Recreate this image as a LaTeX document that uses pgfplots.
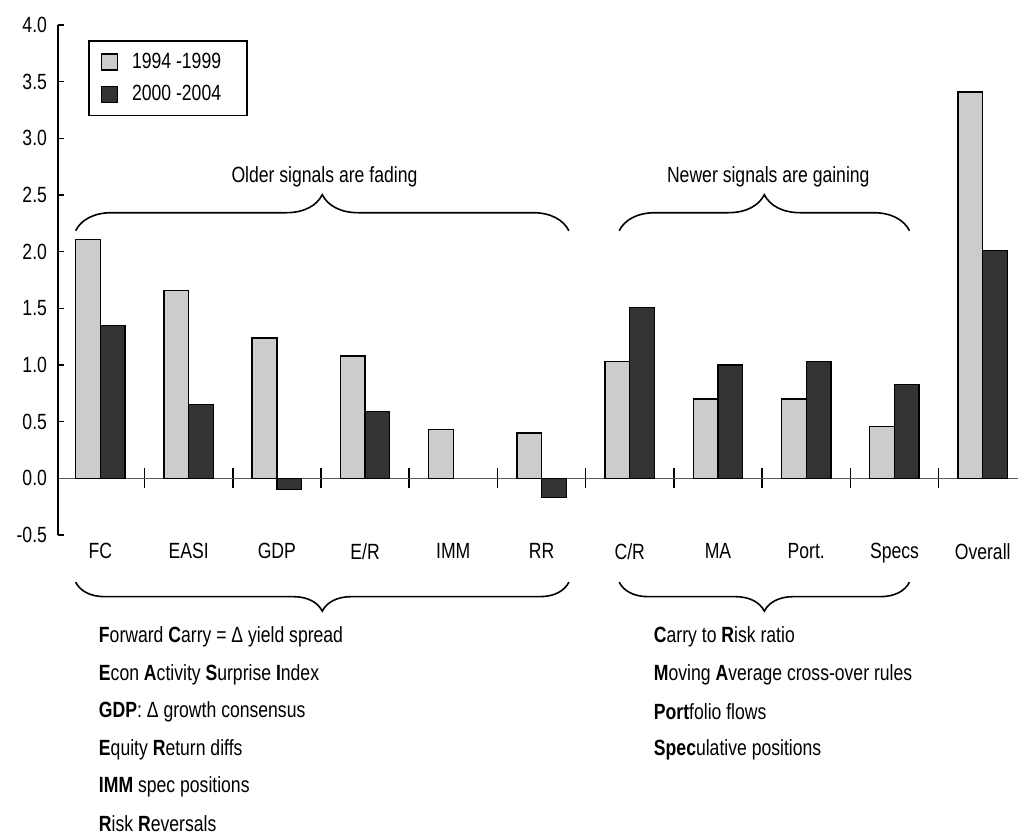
\documentclass[border=0pt]{standalone}
\usepackage{fontspec}
\setmainfont{Liberation Sans}[FakeStretch=0.8]
\usepackage{pgfplots}
\usepackage{pgfplotstable}
\pgfplotsset{compat=1.18}
\usetikzlibrary{decorations.pathreplacing}

\definecolor{lightbar}{gray}{0.80}
\definecolor{darkbar}{gray}{0.20}

% 1994-1999
\pgfplotstableread{
x y
0 2.11
1 1.66
2 1.24
3 1.08
4 0.43
5 0.40
6 1.03
7 0.70
8 0.70
9 0.46
10 3.41
}\early

% 2000-2004 (IMM has no bar)
\pgfplotstableread{
x y
0 1.35
1 0.65
2 -0.10
3 0.59
5 -0.17
6 1.51
7 1.00
8 1.03
9 0.83
10 2.01
}\late

\begin{document}
\begin{tikzpicture}[font=\fontsize{11}{13}\selectfont]
\useasboundingbox (-29pt,-150.5pt) rectangle (480pt,267.5pt);
\begin{axis}[
  scale only axis,
  width=480pt, height=255pt,
  xmin=-0.48, xmax=10.4,
  ymin=-0.5, ymax=4.0,
  axis y line*=left,
  axis x line*=middle,
  y axis line style={-, black, line width=0.8pt},
  x axis line style={-, black!65, line width=0.6pt},
  clip=false,
  ybar=0pt,
  bar width=0.28,
  ytick={-0.5,0,...,4},
  yticklabel style={xshift=-2pt, /pgf/number format/.cd, fixed, fixed zerofill, precision=1, assume math mode=true},
  xtick={0,...,10},
  xticklabels={FC,EASI,GDP,E/R,IMM,RR,C/R,MA,Port.,Specs,Overall},
  major x tick style={draw=none},
  minor xtick={0.5,1.5,...,9.5},
  minor x tick style={black, line width=0.8pt, yshift=-5pt},
  minor tick length=10pt,
  major tick length=3pt,
  tick align=inside,
  ytick style={black, line width=0.8pt},
  xticklabel style={yshift=-29pt},
  tick label style={font=\fontsize{11}{13}\selectfont},
  legend style={at={(rel axis cs:0.031,0.971)}, anchor=north west,
    draw=black, line width=0.9pt, font=\fontsize{11}{13}\selectfont,
    row sep=3pt, inner xsep=6pt, inner ysep=4pt,
    nodes={inner xsep=7pt}},
  legend image code/.code={\draw[#1, line width=0.7pt] (0pt,-4pt) rectangle (8pt,4pt);},
  legend cell align=left,
]
\addplot[fill=lightbar, draw=black, line width=0.7pt] table[x=x, y=y] {\early};
\addplot[fill=darkbar, draw=black, line width=0.7pt] table[x=x, y=y] {\late};
\legend{1994 -1999, 2000 -2004}

% group annotations
\node at (axis cs:2.54,2.66) {Older signals are fading};
\node at (axis cs:7.57,2.66) {Newer signals are gaining};
\draw[line width=0.8pt, decorate, decoration={brace, amplitude=18pt}]
  (axis cs:-0.28,2.185) -- (axis cs:5.31,2.185);
\draw[line width=0.8pt, decorate, decoration={brace, amplitude=18pt}]
  (axis cs:5.88,2.185) -- (axis cs:9.17,2.185);
\draw[line width=0.8pt, decorate, decoration={brace, amplitude=14.5pt}]
  (axis cs:5.31,-0.916) -- (axis cs:-0.28,-0.916);
\draw[line width=0.8pt, decorate, decoration={brace, amplitude=14.5pt}]
  (axis cs:9.17,-0.916) -- (axis cs:5.88,-0.916);

% signal descriptions
\begin{scope}[every node/.style={anchor=west, inner sep=0pt}]
\node at (axis cs:-0.02,-1.401) {\textbf{F}orward \textbf{C}arry = Δ yield spread};
\node at (axis cs:-0.02,-1.731) {\textbf{E}con \textbf{A}ctivity \textbf{S}urprise \textbf{I}ndex};
\node at (axis cs:-0.02,-2.061) {\textbf{GDP}: Δ growth consensus};
\node at (axis cs:-0.02,-2.391) {\textbf{E}quity \textbf{R}eturn diffs};
\node at (axis cs:-0.02,-2.721) {\textbf{IMM} spec positions};
\node at (axis cs:-0.02,-3.045) {\textbf{R}isk \textbf{R}eversals};
\node at (axis cs:6.27,-1.401) {\textbf{C}arry to \textbf{R}isk ratio};
\node at (axis cs:6.27,-1.731) {\textbf{M}oving \textbf{A}verage cross-over rules};
\node at (axis cs:6.27,-2.061) {\textbf{Port}folio flows};
\node at (axis cs:6.27,-2.391) {\textbf{Spec}ulative positions};
\end{scope}
\end{axis}
\end{tikzpicture}
\end{document}
